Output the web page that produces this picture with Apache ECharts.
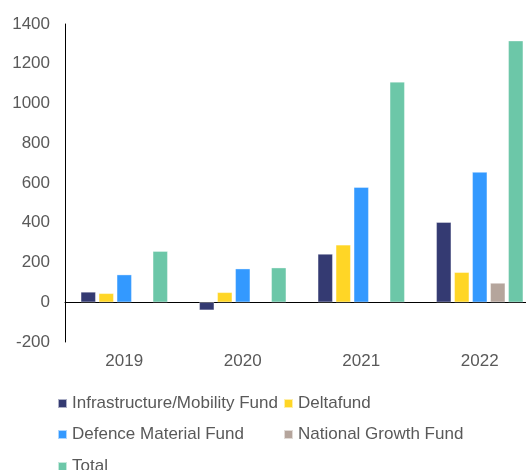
<!DOCTYPE html>
<html><head><meta charset="utf-8">
<script src="https://cdn.jsdelivr.net/npm/echarts@6/dist/echarts.min.js"></script>
<style>html,body{margin:0;padding:0;background:#fff}#c{width:526px;height:470px}</style>
</head><body><div id="c"></div>
<script>
const categories = ['2019', '2020', '2021', '2022'];
const infraMobility = [52, -40, 243, 403];
const deltafund = [45, 50, 289, 151];
const defenceMaterial = [139, 169, 579, 655];
const nationalGrowth = [null, null, null, 97];
const total = [257, 174, 1109, 1316];
const yTicks = [-200, 0, 200, 400, 600, 800, 1000, 1200, 1400];

const names = ['Infrastructure/Mobility Fund', 'Deltafund', 'Defence Material Fund', 'National Growth Fund', 'Total'];
const colors = ['#343A72', '#FFD626', '#3399FF', '#B5A59C', '#6CC7A8'];
const values = [infraMobility, deltafund, defenceMaterial, nationalGrowth, total];
const legendPos = [[57, 395], [283, 395], [57, 426], [283, 426], [57, 458]];

const chart = echarts.init(document.getElementById('c'), null, {renderer: 'canvas'});
const txt = '#595959';
const font = 'Liberation Sans, Arial, sans-serif';
chart.setOption({
  animation: false,
  textStyle: {fontFamily: font},
  grid: {left: 65, top: 24, width: 474, height: 318, outerBoundsMode: 'none', containLabel: false},
  legend: names.map((n, i) => ({
    data: [n], left: legendPos[i][0], top: legendPos[i][1], padding: 0,
    itemWidth: 9, itemHeight: 9, icon: 'rect',
    textStyle: {color: txt, fontSize: 17, fontFamily: font}
  })),
  xAxis: [{
    type: 'category', data: categories,
    axisLine: {show: false, onZero: false}, axisTick: {show: false},
    axisLabel: {color: txt, fontSize: 17, margin: 11, fontFamily: font}
  }, {
    type: 'category', data: categories, position: 'bottom',
    axisLine: {show: true, onZero: true, lineStyle: {color: '#000', width: 1}},
    axisTick: {show: false}, axisLabel: {show: false}
  }],
  yAxis: {
    type: 'value', min: yTicks[0], max: yTicks[yTicks.length - 1], interval: 200,
    axisLine: {show: true, lineStyle: {color: '#000', width: 1}},
    axisTick: {show: false}, splitLine: {show: false},
    axisLabel: {color: txt, fontSize: 17, margin: 15, fontFamily: font, formatter: v => String(v)}
  },
  series: names.map((n, i) => ({
    name: n, type: 'bar', data: values[i], barWidth: 15, barGap: '20%',
    itemStyle: {color: colors[i], borderColor: 'rgba(255,255,255,0.6)', borderWidth: 0.6}
  }))
});
</script></body></html>
